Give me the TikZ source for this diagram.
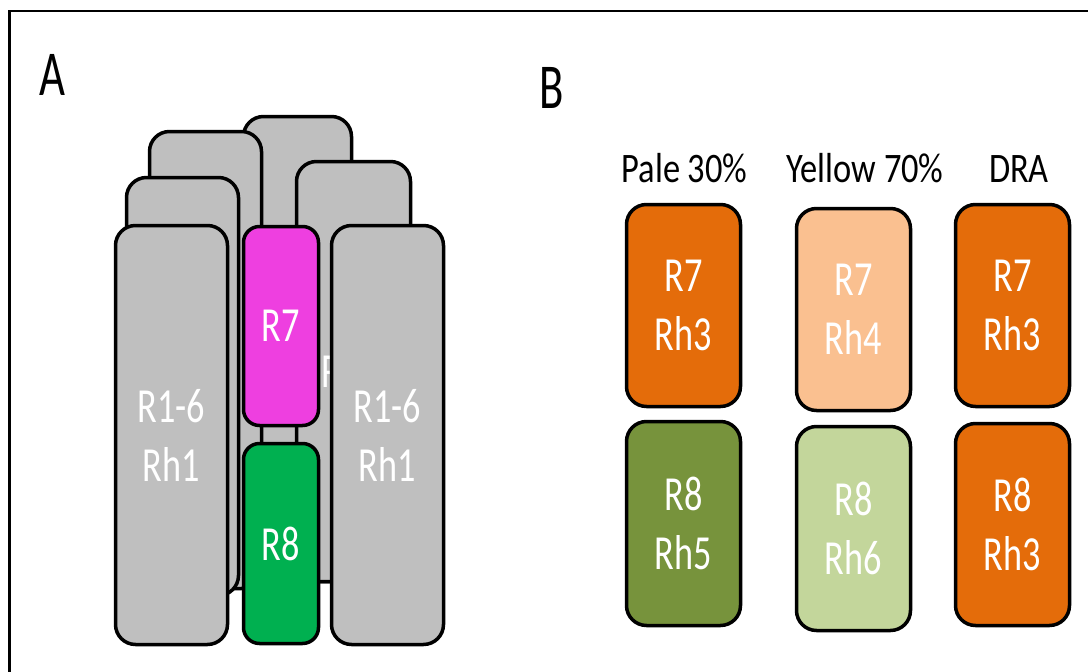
\documentclass[tikz,border=0pt]{standalone}
\usepackage{fontspec}
\setmainfont{Carlito}
\newfontfamily\boxfont{Carlito}[FakeStretch=0.74]
\newfontfamily\headfont{Carlito}[FakeStretch=0.82]
\newfontfamily\panelfont{Carlito}[FakeStretch=0.7]

\definecolor{grayfill}{HTML}{BFBFBF}
\definecolor{magentafill}{HTML}{EE3FE0}
\definecolor{greenfill}{HTML}{00B050}
\definecolor{orangefill}{HTML}{E46C0A}
\definecolor{peachfill}{HTML}{FAC090}
\definecolor{olivefill}{HTML}{77933C}
\definecolor{sagefill}{HTML}{C3D69B}

\tikzset{
  unit/.style={draw=black, line width=3.5pt, rounded corners=20pt, inner sep=0pt,
    align=center, text=white, font=\boxfont\fontsize{49}{59}\selectfont},
  grayunit/.style={unit, fill=grayfill},
  headlabel/.style={anchor=base, inner sep=0pt, font=\headfont\fontsize{42}{50}\selectfont},
  panellabel/.style={anchor=base, inner sep=0pt, font=\panelfont\fontsize{64}{70}\selectfont},
}

\begin{document}
\begin{tikzpicture}[x=1pt, y=-1pt]
\useasboundingbox (0,0) rectangle (1088,672);
\clip (0,0) rectangle (1088,672);

% outer frame
\draw[line width=2.5pt] (9.5,11) rectangle (1200,800);

% panel labels
\node[panellabel] (labA) at (52.5,95) {A};
\node[panellabel] (labB) at (552,108) {B};

% ---- panel A: stacked photoreceptor units, back to front ----
\node[grayunit, minimum width=108pt, minimum height=465pt] (backC) at (297.5,349) {};
\node[grayunit, minimum width=112pt, minimum height=457pt] (backL) at (205.5,360) {};
\node[grayunit, minimum width=114pt, minimum height=420pt] (backR) at (353.5,371.5) {};
% label of the rear unit, mostly covered by the front units
\node[anchor=base west, inner sep=0pt, text=white, font=\boxfont\fontsize{49}{59}\selectfont] (backRlabel) at (321,387) {R};
\node[grayunit, minimum width=112pt, minimum height=418pt] (midL) at (182.5,386.5) {};
\node[grayunit, minimum width=112pt, minimum height=419pt] (frontL) at (171.5,435) {R1-6\\Rh1};
\node[grayunit, minimum width=112pt, minimum height=419pt] (frontR) at (387.5,435) {R1-6\\Rh1};
\node[unit, fill=magentafill, rounded corners=16pt, minimum width=75pt, minimum height=199pt] (r7) at (281,326) {R7};
\node[unit, fill=greenfill, rounded corners=16pt, minimum width=75pt, minimum height=200pt] (r8) at (281,543.5) {R8};

% ---- panel B: rhodopsin pairing per ommatidium type ----
\node[headlabel] (hPale) at (684.5,182) {Pale 30\%};
\node[headlabel] (hYellow) at (865,182) {Yellow 70\%};
\node[headlabel] (hDRA) at (1019,182) {DRA};

\node[unit, fill=orangefill, minimum width=114pt, minimum height=202pt] (paleR7) at (683.5,305.5) {R7\\Rh3};
\node[unit, fill=peachfill, minimum width=114pt, minimum height=202pt] (yelR7) at (853.5,309.5) {R7\\Rh4};
\node[unit, fill=orangefill, minimum width=114pt, minimum height=202pt] (draR7) at (1012.5,305.5) {R7\\Rh3};
\node[unit, fill=olivefill, minimum width=114pt, minimum height=204pt] (paleR8) at (683.5,523.5) {R8\\Rh5};
\node[unit, fill=sagefill, minimum width=114pt, minimum height=204pt] (yelR8) at (853.5,528.5) {R8\\Rh6};
\node[unit, fill=orangefill, minimum width=114pt, minimum height=202pt] (draR8) at (1012.5,524.5) {R8\\Rh3};
\end{tikzpicture}
\end{document}
